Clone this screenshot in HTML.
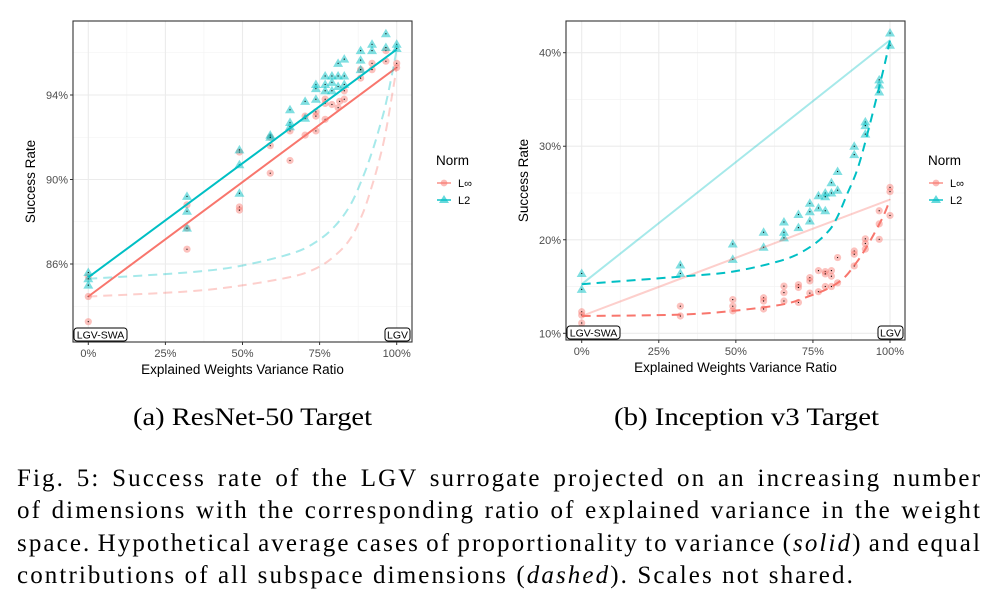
<!DOCTYPE html>
<html><head><meta charset="utf-8"><style>
body{margin:0;background:#fff;}
svg{display:block;font-family:"Liberation Sans",sans-serif;}
.cap{font-family:"Liberation Serif",serif;font-size:25px;fill:#000;}
</style></head><body>
<svg id="s" width="992" height="607" viewBox="0 0 992 607">
<g id="p1"></g>
<g id="p2"></g>
<text class="cap" x="133" y="425" textLength="239" lengthAdjust="spacingAndGlyphs" font-size="23">(a) ResNet-50 Target</text>
<text class="cap" x="614" y="425" textLength="265" lengthAdjust="spacingAndGlyphs" font-size="23">(b) Inception v3 Target</text>
<text class="cap jl" x="17" y="486">Fig. 5: Success rate of the LGV surrogate projected on an increasing number</text>
<text class="cap jl" x="17" y="518">of dimensions with the corresponding ratio of explained variance in the weight</text>
<text class="cap jl" x="17" y="551">space. Hypothetical average cases of proportionality to variance (<tspan font-style="italic">solid</tspan>) and equal</text>
<text class="cap" id="last" x="17" y="583">contributions of all subspace dimensions (<tspan font-style="italic">dashed</tspan>). Scales not shared.</text>
</svg>
<script>
// ---- Panel A (ResNet-50) data ----
const aRedX=[0,0,0,32,32,32,49,49,49,59,59,59,65.4,65.4,70.3,70.3,73.8,73.8,73.8,76.8,76.8,76.8,79,81,81.5,83,83,88.3,88.3,92,92,96.5,96.5,100,100];
const aRedY=[84.46,83.27,85.4,88.8,87.7,86.7,88.7,88.55,91.3,91.6,90.3,92.0,92.3,90.9,93.0,92.1,93.2,93.0,92.3,93.8,93.6,92.85,93.55,93.4,93.7,93.8,94.2,94.8,95.2,95.5,95.2,96.1,95.6,95.5,95.3];
const aCyanX=[0,0,0,32,32,32,49,49,49,59,59,65.4,65.4,65.4,70.3,70.3,73.8,73.8,73.8,76.8,76.8,76.8,79,79,79,81,81,81,83,83,83,88.3,88.3,88.3,92,92,96.5,96.5,100,100];
const aCyanY=[85.6,85.3,85.0,89.2,88.5,87.7,91.4,90.7,89.35,92.1,92.0,93.3,92.7,92.5,93.7,92.9,94.5,94.3,93.8,94.9,94.5,94.2,94.9,94.6,94.2,95.5,94.9,94.4,95.7,94.9,94.5,96.1,95.65,95.2,96.4,96.1,96.9,96.25,96.4,96.2];
const aRedSolidX=[0,100], aRedSolidY=[84.46,95.3];
const aCyanSolidX=[0,100], aCyanSolidY=[85.37,96.16];
const aRedDashX=[0,32,49,66,74,80,85,89,92,94.5,96.5,98.5,100];
const aRedDashY=[84.46,84.7,84.97,85.4,85.8,86.4,87.2,88.4,89.7,91.0,92.3,94.0,95.3];
const aCyanDashX=[0,32,49,66,74,80,85,89,92,94.5,96.5,98.5,100];
const aCyanDashY=[85.3,85.6,85.9,86.5,87.06,87.8,88.8,90.1,91.3,92.5,93.6,95.0,96.16];
const aYTicks=[86,90,94], aYMinor=[84,88,92,96];
// ---- Panel B (Inception v3) data ----
const bRedX=[0,0,0,32,32,49,49,49,59,59,59,65.6,65.6,65.6,70.3,70.3,70.3,74,74,74,76.8,76.8,79,79,79,81,81,81,83,83,88.4,88.4,88.4,92,92,92,96.5,96.5,96.5,100,100,100];
const bRedY=[12.3,11.95,11.1,12.9,11.85,13.6,12.9,12.4,13.8,13.45,12.6,15.05,14.35,13.45,15.2,14.9,13.3,15.95,15.6,14.3,16.7,14.45,16.6,16.35,15.0,16.7,16.1,15.0,18.1,15.4,18.8,18.45,17.2,20.1,19.6,19.0,23.1,21.7,20.05,25.6,25.15,22.6];
const bCyanX=[0,0,32,32,49,49,59,59,65.6,65.6,65.6,70.3,70.3,74,74,74,76.8,76.8,79,79,79,81,81,83,83,88.4,88.4,92,92,92,96.5,96.5,96.5,100,100];
const bCyanY=[16.4,14.7,17.3,16.4,19.55,17.9,20.8,19.2,21.9,20.8,20.2,22.7,21.3,23.9,23.0,22.0,24.7,23.4,25.0,24.6,23.1,26.1,25.0,27.3,25.3,30.0,29.1,32.6,32.2,31.3,37.1,36.55,35.8,42.1,40.8];
const bRedSolidX=[0,100], bRedSolidY=[11.85,24.3];
const bCyanSolidX=[0,100], bCyanSolidY=[15.25,41.35];
const bRedDashX=[0,32,49,65.4,74,80,85,89.2,92,94.6,97.8,100];
const bRedDashY=[11.85,12.0,12.4,13.1,14.0,14.8,15.9,17.6,19.0,20.5,22.5,24.3];
const bCyanDashX=[0,32,49,65.4,74,80,83,86,89.7,93.5,97.8,100];
const bCyanDashY=[15.25,16.06,16.6,17.85,19.2,20.9,22.5,24.8,27.8,32.4,38.1,41.35];
const bYTicks=[10,20,30,40], bYMinor=[15,25,35];
const xTicks=[0,25,50,75,100], xMinor=[12.5,37.5,62.5,87.5];

const NS="http://www.w3.org/2000/svg";
const RED="#F8766D", CYAN="#00BFC4";
function mk(parent,tag,attrs,text){
  const e=document.createElementNS(NS,tag);
  for(const k in attrs)e.setAttribute(k,attrs[k]);
  if(text!==undefined)e.textContent=text;
  parent.appendChild(e);return e;
}
function smooth(pts){
  let d='M'+pts[0][0].toFixed(1)+','+pts[0][1].toFixed(1);
  for(let i=0;i<pts.length-1;i++){
    const p0=pts[Math.max(i-1,0)],p1=pts[i],p2=pts[i+1],p3=pts[Math.min(i+2,pts.length-1)];
    const c1=[p1[0]+(p2[0]-p0[0])/6,p1[1]+(p2[1]-p0[1])/6];
    const c2=[p2[0]-(p3[0]-p1[0])/6,p2[1]-(p3[1]-p1[1])/6];
    d+=` C${c1[0].toFixed(1)},${c1[1].toFixed(1)} ${c2[0].toFixed(1)},${c2[1].toFixed(1)} ${p2[0].toFixed(1)},${p2[1].toFixed(1)}`;
  }
  return d;
}
function panel(g,box,x0px,x100px,yv1,yp1,yv2,yp2,yT,yM,D,solidOp,dashOp,legX){
  const sx=v=>x0px+(x100px-x0px)*v/100;
  const sy=v=>yp1+(v-yv1)*(yp2-yp1)/(yv2-yv1);
  const bg=mk(g,'rect',{x:box.l,y:box.t,width:box.r-box.l,height:box.b-box.t,fill:'#fff'});
  
  yM.forEach(v=>{const l=mk(g,'line',{x1:box.l,x2:box.r,y1:sy(v),y2:sy(v),stroke:'#f2f2f2','stroke-width':0.6});
    });
  xMinor.forEach(v=>{const l=mk(g,'line',{x1:sx(v),x2:sx(v),y1:box.t,y2:box.b,stroke:'#f2f2f2','stroke-width':0.6});
    });
  yT.forEach(v=>{const l=mk(g,'line',{x1:box.l,x2:box.r,y1:sy(v),y2:sy(v),stroke:'#ebebeb','stroke-width':1.1});
    
    const tk=mk(g,'line',{x1:box.l-3,x2:box.l,y1:sy(v),y2:sy(v),stroke:'#333','stroke-width':1});
    
    const t=mk(g,'text',{x:box.l-5,y:sy(v)+4,'text-anchor':'end','font-size':11,fill:'#4d4d4d'},v+'%');
    });
  xTicks.forEach(v=>{const l=mk(g,'line',{x1:sx(v),x2:sx(v),y1:box.t,y2:box.b,stroke:'#ebebeb','stroke-width':1.1});
    
    const tk=mk(g,'line',{x1:sx(v),x2:sx(v),y1:box.b,y2:box.b+3,stroke:'#333','stroke-width':1});
    
    const t=mk(g,'text',{x:sx(v),y:box.b+15,'text-anchor':'middle','font-size':11,fill:'#4d4d4d'},v+'%');
    });
  const pts=(xs,ys)=>xs.map((x,i)=>[sx(x),sy(ys[i])]);
  D.rx.forEach((x,i)=>{const c=mk(g,'circle',{cx:sx(x),cy:sy(D.ry[i]),r:3.6,fill:RED,'fill-opacity':0.45});
    
    mk(g,'circle',{cx:sx(x),cy:sy(D.ry[i]),r:0.6,fill:'#000'});});
  D.cx.forEach((x,i)=>{const X=sx(x),Y=sy(D.cy[i]);
    const p=mk(g,'path',{d:`M${X},${Y-5} L${X+5},${Y+3.5} L${X-5},${Y+3.5} Z`,fill:CYAN,'fill-opacity':0.5});
    
    mk(g,'circle',{cx:X,cy:Y,r:0.6,fill:'#000'});});
  let l;
  l=mk(g,'path',{d:smooth(pts(D.rsx,D.rsy)),stroke:RED,'stroke-width':2,fill:'none','stroke-opacity':solidOp});
  
  l=mk(g,'path',{d:smooth(pts(D.csx,D.csy)),stroke:CYAN,'stroke-width':2,fill:'none','stroke-opacity':solidOp});
  
  l=mk(g,'path',{d:smooth(pts(D.rdx,D.rdy)),stroke:RED,'stroke-width':2,fill:'none','stroke-opacity':dashOp,'stroke-dasharray':'9,6'});
  
  l=mk(g,'path',{d:smooth(pts(D.cdx,D.cdy)),stroke:CYAN,'stroke-width':2,fill:'none','stroke-opacity':dashOp,'stroke-dasharray':'9,6'});
  
  const b=mk(g,'rect',{x:box.l,y:box.t,width:box.r-box.l,height:box.b-box.t,fill:'none',stroke:'#333','stroke-width':1.1});
  
  const lb1=mk(g,'rect',{x:box.l+1,y:box.b-14,width:53,height:13,rx:3,fill:'#fff',stroke:'#000','stroke-width':1});
  
  const t1=mk(g,'text',{x:box.l+27.5,y:box.b-3.5,'text-anchor':'middle','font-size':10.5,fill:'#000'},'LGV-SWA');
  
  const lb2=mk(g,'rect',{x:box.r-27,y:box.b-14,width:25,height:13,rx:3,fill:'#fff',stroke:'#000','stroke-width':1});
  
  const t2=mk(g,'text',{x:box.r-14.5,y:box.b-3.5,'text-anchor':'middle','font-size':10.5,fill:'#000'},'LGV');
  
  const xt=mk(g,'text',{x:(box.l+box.r)/2,y:box.b+32,'text-anchor':'middle','font-size':13.5,fill:'#000'},'Explained Weights Variance Ratio');
  
  const cyy=(box.t+box.b)/2;
  const yt=mk(g,'text',{x:box.l-38,y:cyy,'text-anchor':'middle','font-size':13.5,fill:'#000',transform:`rotate(-90 ${box.l-38} ${cyy})`},'Success Rate');
  
  const lt=mk(g,'text',{x:legX,y:165,'font-size':13.5,fill:'#000'},'Norm');
  
  const e1=mk(g,'g',{});
  mk(e1,'line',{x1:legX+1,x2:legX+15,y1:183,y2:183,stroke:RED,'stroke-width':2,'stroke-opacity':0.6});
  mk(e1,'circle',{cx:legX+8,cy:183,r:3.4,fill:RED,'fill-opacity':0.5});
  mk(e1,'text',{x:legX+22,y:187,'font-size':11,fill:'#000'},'L∞');
  const e2=mk(g,'g',{});
  mk(e2,'line',{x1:legX+1,x2:legX+15,y1:200,y2:200,stroke:CYAN,'stroke-width':2,'stroke-opacity':0.7});
  mk(e2,'path',{d:`M${legX+8},${195} L${legX+13},${203} L${legX+3},${203} Z`,fill:CYAN,'fill-opacity':0.6});
  mk(e2,'text',{x:legX+22,y:204,'font-size':11,fill:'#000'},'L2');
}
panel(document.getElementById('p1'),{l:73,r:412,t:21,b:342},88.3,396.7,94,95,86,264,aYTicks,aYMinor,
  {rx:aRedX,ry:aRedY,cx:aCyanX,cy:aCyanY,rsx:aRedSolidX,rsy:aRedSolidY,csx:aCyanSolidX,csy:aCyanSolidY,
   rdx:aRedDashX,rdy:aRedDashY,cdx:aCyanDashX,cdy:aCyanDashY},1,0.35,436);
panel(document.getElementById('p2'),{l:566,r:905,t:21,b:340},581.7,890,40,52.7,10,333.3,bYTicks,bYMinor,
  {rx:bRedX,ry:bRedY,cx:bCyanX,cy:bCyanY,rsx:bRedSolidX,rsy:bRedSolidY,csx:bCyanSolidX,csy:bCyanSolidY,
   rdx:bRedDashX,rdy:bRedDashY,cdx:bCyanDashX,cdy:bCyanDashY},0.35,1,928);
// caption fitting: last line to natural target width 838 via letter-spacing, others justified via word-spacing
const last=document.getElementById('last');
const w0=last.getComputedTextLength();
const n0=last.textContent.length;
const ls=Math.max(0,(838-w0)/n0);
last.setAttribute('letter-spacing',ls.toFixed(3));
document.querySelectorAll('.jl').forEach(t=>{
  t.setAttribute('letter-spacing',ls.toFixed(3));
  const w=t.getComputedTextLength();
  const spaces=(t.textContent.match(/ /g)||[]).length;
  const ws=(965-w)/spaces;
  t.setAttribute('word-spacing',ws.toFixed(3));
});
</script>
</body></html>
